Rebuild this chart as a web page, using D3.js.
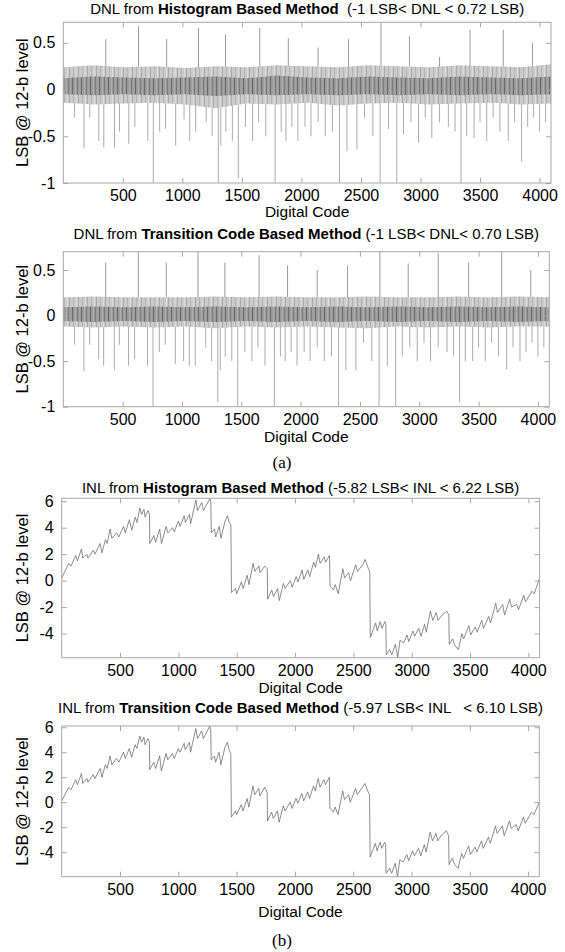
<!DOCTYPE html>
<html>
<head>
<meta charset="utf-8">
<script src="https://cdn.jsdelivr.net/npm/d3@7/dist/d3.min.js"></script>
<style>
  body { margin:0; background:#fff; }
  svg { display:block; font-family:"Liberation Sans", Arial, sans-serif; }
  text { white-space: pre; }
</style>
</head>
<body>
<script>
// ---- DNL: noise band envelope (read every 256 codes) ----
const bandCodes = [0,256,512,768,1024,1280,1536,1792,2048,2304,2560,2816,3072,3328,3584,3840,4096];
const histOuterHi = [0.24,0.26,0.24,0.25,0.23,0.25,0.24,0.26,0.25,0.24,0.26,0.25,0.24,0.26,0.25,0.24,0.27];
const histOuterLo = [-0.14,-0.16,-0.15,-0.14,-0.16,-0.2,-0.15,-0.16,-0.14,-0.17,-0.15,-0.14,-0.16,-0.15,-0.14,-0.16,-0.15];
const histInnerHi = [0.12,0.14,0.13,0.12,0.13,0.14,0.12,0.15,0.13,0.12,0.14,0.13,0.12,0.14,0.13,0.12,0.14];
const histInnerLo = [-0.05,-0.06,-0.05,-0.06,-0.05,-0.07,-0.05,-0.06,-0.05,-0.06,-0.05,-0.06,-0.05,-0.06,-0.05,-0.06,-0.05];
const transOuterHi = [0.2,0.21,0.2,0.2,0.2,0.21,0.2,0.21,0.2,0.2,0.21,0.2,0.2,0.21,0.2,0.21,0.2];
const transOuterLo = [-0.12,-0.13,-0.12,-0.13,-0.12,-0.14,-0.12,-0.13,-0.12,-0.13,-0.14,-0.12,-0.13,-0.12,-0.13,-0.12,-0.12];
const transInnerHi = [0.09,0.1,0.09,0.1,0.09,0.1,0.09,0.1,0.09,0.1,0.09,0.1,0.09,0.1,0.09,0.1,0.09];
const transInnerLo = [-0.06,-0.07,-0.06,-0.07,-0.06,-0.07,-0.06,-0.07,-0.06,-0.07,-0.06,-0.07,-0.06,-0.07,-0.06,-0.07,-0.06];

// ---- DNL: spikes ----
const upCodes  = [357,632,868,1135,1362,1650,1890,2140,2396,2668,2907,3160,3416,3695,3940];
const upHist   = [0.54,0.68,0.54,0.66,0.59,0.66,0.55,0.45,0.54,0.72,0.57,0.35,0.64,0.64,0.5];
const upTrans  = [0.58,0.70,0.58,0.70,0.58,0.66,0.55,0.5,0.55,0.70,0.57,0.68,0.58,0.70,0.5];
const downCodes = [95,174,222,298,340,430,472,550,601,710,756,809,859,944,1014,1062,1112,1200,1250,1302,1323,1365,1420,1470,
  1530,1590,1640,1700,1779,1830,1870,1920,1970,2030,2080,2140,2200,2260,2320,2382,2466,2530,2600,2661,2731,2801,2857,2920,
  2983,3040,3095,3160,3234,3290,3340,3388,3450,3500,3556,3610,3667,3737,3790,3849,3900,3950,4000,4050];
const downHist = [-0.3,-0.63,-0.3,-0.55,-0.62,-0.62,-0.45,-0.58,-0.4,-0.55,-1,-0.45,-0.42,-0.6,-0.32,-0.55,-0.45,-0.35,-0.5,-1,-0.6,-0.45,-0.55,-0.95,
  -0.4,-0.55,-0.35,-0.5,-1,-0.45,-0.55,-0.4,-0.55,-0.4,-0.5,-0.35,-0.5,-0.45,-1,-0.66,-0.64,-0.3,-0.5,-1,-0.42,-1,-0.48,-0.35,
  -0.57,-0.3,-0.52,-0.35,-0.4,-0.45,-1,-0.5,-0.52,-0.35,-0.55,-0.3,-0.45,-0.55,-0.35,-0.77,-0.4,-0.3,-0.45,-0.35];
const downTrans = [-0.32,-0.61,-0.32,-0.48,-0.55,-0.6,-0.32,-0.55,-0.48,-0.55,-1,-0.4,-0.32,-0.53,-0.5,-0.55,-0.55,-0.35,-0.5,-0.95,-0.6,-0.45,-0.5,-1,
  -0.4,-0.5,-0.35,-0.55,-1,-0.45,-0.5,-0.4,-0.55,-0.4,-0.5,-0.35,-0.5,-0.45,-1,-0.6,-0.6,-0.3,-0.5,-1,-0.55,-1,-0.45,-0.35,
  -0.5,-0.3,-0.5,-0.35,-0.4,-0.45,-0.95,-0.5,-0.5,-0.35,-0.5,-0.3,-0.45,-0.59,-0.35,-0.5,-0.4,-0.3,-0.45,-0.35];

// ---- INL vertices ----
const inlCodes = [0,60,80,120,135,170,180,215,225,270,285,330,345,375,390,415,430,470,490,530,545,580,600,630,645,670,685,705,715,740,752,
  755,790,805,840,855,895,910,950,965,1000,1015,1050,1060,1095,1105,1150,1165,1200,1215,1270,1278,
  1282,1310,1320,1350,1365,1400,1420,1435,1450,
  1455,1490,1500,1540,1555,1590,1605,1640,1655,1690,1700,1740,1762,
  1765,1800,1815,1850,1865,1900,1915,1960,1975,2010,2025,2060,2075,2110,2125,2160,2175,2200,2215,2250,2262,2295,
  2300,2330,2345,2370,2410,2425,2460,2475,2520,2535,2580,2600,2620,2640,
  2645,2670,2690,2705,2730,2745,2770,2778,
  2782,2810,2830,2860,2880,2900,2930,2960,2975,3010,3025,3060,3080,3110,3125,3160,3180,3210,3225,3260,3300,3318,
  3322,3350,3370,3400,3430,3445,3490,3505,3545,3560,3600,3615,3660,3675,3720,3735,3780,3795,3840,3855,3900,3915,3960,3975,4030,4050,4096];
const inlHist = [0.2,1.3,1.1,1.9,1.5,2.4,1.7,2.0,1.7,2.3,2.0,2.8,2.1,3.1,2.8,3.9,3.2,3.6,3.3,4.1,3.6,4.6,3.8,4.8,4.4,5.5,5.0,5.4,4.8,5.3,5.0,
  2.8,3.4,2.9,3.9,2.8,4.1,3.6,4.0,3.7,4.5,4.1,4.9,4.4,5.0,4.3,6.1,5.3,5.9,5.3,6.2,6.0,
  3.6,3.9,3.3,4.1,3.2,4.5,4.9,4.4,4.2,
  -0.9,-0.6,-1.0,-0.1,-0.6,0.4,-0.3,1.3,0.7,1.1,0.6,1.1,0.9,
  -1.4,-0.7,-1.2,-0.6,-1.5,-0.2,-0.6,0.0,-0.5,0.3,-0.1,0.8,0.1,0.8,0.3,1.4,1.0,2.0,1.3,1.8,1.4,1.9,
  -0.4,-0.7,-0.3,-1.0,0.9,0.2,0.6,0.0,1.2,0.7,1.2,1.6,1.1,0.7,
  -4.3,-3.7,-3.2,-3.8,-3.1,-3.6,-3.1,-3.3,
  -5.6,-5.2,-5.6,-4.8,-5.8,-4.5,-4.7,-4.1,-4.6,-3.8,-4.2,-3.6,-4.2,-3.3,-3.9,-2.3,-3.0,-2.4,-3.0,-2.6,-2.3,-2.6,
  -4.8,-4.4,-4.9,-5.2,-4.0,-4.4,-3.4,-4.1,-3.5,-3.9,-3.0,-3.6,-2.7,-3.2,-1.7,-2.4,-1.8,-2.6,-1.4,-2.0,-1.8,-2.2,-1.1,-1.6,-0.8,-1.0,0.2];
const inlTrans = [0.1,1.2,1.0,1.8,1.4,2.3,1.5,1.9,1.6,2.2,1.9,2.7,2.0,3.0,2.7,3.7,3.0,3.5,3.2,4.0,3.5,4.3,3.6,4.6,4.3,5.3,4.8,5.2,4.6,5.1,4.8,
  2.6,3.2,2.7,3.7,2.5,3.9,3.4,3.9,3.5,4.3,4.0,4.7,4.2,4.8,4.0,5.9,5.1,5.7,5.1,6.1,5.8,
  3.4,3.7,3.2,4.0,3.0,4.4,4.8,4.2,3.9,
  -1.2,-0.7,-1.0,-0.2,-0.7,0.3,-0.4,1.3,0.6,1.1,0.5,1.2,0.8,
  -1.5,-0.8,-1.3,-0.7,-1.6,-0.3,-0.7,0.0,-0.5,0.3,-0.1,0.7,0.1,0.8,0.3,1.3,0.9,1.9,1.2,1.8,1.4,2.0,
  -0.5,-0.8,-0.4,-1.0,0.9,0.2,0.6,0.0,1.1,0.6,1.2,1.5,1.0,0.6,
  -4.4,-3.8,-3.3,-3.9,-3.2,-3.7,-3.2,-3.4,
  -5.7,-5.3,-5.7,-4.9,-5.97,-4.6,-4.8,-4.2,-4.7,-3.9,-4.3,-3.7,-4.3,-3.4,-4.0,-2.4,-3.1,-2.5,-3.1,-2.6,-2.3,-2.7,
  -5.0,-4.5,-5.0,-5.3,-4.1,-4.5,-3.5,-4.2,-3.6,-4.0,-3.1,-3.7,-2.8,-3.3,-1.9,-2.5,-1.9,-2.7,-1.5,-2.1,-1.8,-2.3,-1.2,-1.7,-0.8,-1.0,0.0];

const xTicks = [500,1000,1500,2000,2500,3000,3500,4000];
const dnlTicks = [-1,-0.5,0,0.5];
const inlTicks = [-4,-2,0,2,4,6];

const W = 565, H = 952;
const svg = d3.select('body').append('svg').attr('width',W).attr('height',H);
svg.append('rect').attr('width',W).attr('height',H).attr('fill','#fff');

// stripe textures for the dense DNL noise band
const defs = svg.append('defs');
function stripes(id, bg, lines){
  const pat = defs.append('pattern').attr('id',id).attr('patternUnits','userSpaceOnUse')
    .attr('width',9).attr('height',20);
  pat.append('rect').attr('width',9).attr('height',20).attr('fill',bg);
  lines.forEach(([px,c,w])=>pat.append('rect').attr('x',px).attr('width',w).attr('height',20).attr('fill',c));
}
stripes('outerTex','#cbcbcb',[[1,'#b4b4b4',1],[4,'#dadada',1],[6,'#a9a9a9',1]]);
stripes('innerTex','#9a9a9a',[[0,'#6a6a6a',1],[3,'#b0b0b0',1],[5,'#7c7c7c',1],[7,'#a5a5a5',1]]);

const panels = [
  { kind:'dnl', left:63.3, right:551, top:22.3, bottom:183, dom:[-1,0.72], ticks:dnlTicks,
    title:['DNL from ','Histogram Based Method','  (-1 LSB< DNL < 0.72 LSB)'], titleY:14, labelY:217,
    band:[histOuterHi,histOuterLo,histInnerHi,histInnerLo], up:upHist, down:downHist },
  { kind:'dnl', left:63.3, right:549.3, top:251.7, bottom:406.7, dom:[-1,0.70], ticks:dnlTicks,
    title:['DNL from ','Transition Code Based Method',' (-1 LSB< DNL< 0.70 LSB)'], titleY:238.5, labelY:442,
    band:[transOuterHi,transOuterLo,transInnerHi,transInnerLo], up:upTrans, down:downTrans },
  { kind:'inl', left:61.7, right:539.6, top:498.3, bottom:657.7, dom:[-5.82,6.22], ticks:inlTicks,
    title:['INL from ','Histogram Based Method',' (-5.82 LSB< INL < 6.22 LSB)'], titleY:492.5, labelY:693,
    vals:inlHist },
  { kind:'inl', left:61.7, right:539.3, top:726, bottom:876.7, dom:[-5.97,6.10], ticks:inlTicks,
    title:['INL from ','Transition Code Based Method',' (-5.97 LSB< INL   < 6.10 LSB)'], titleY:712.5, labelY:917,
    vals:inlTrans }
];

const frameColor = '#a8a8a8';

panels.forEach((p,pi)=>{
  const x = d3.scaleLinear().domain([0,4096]).range([p.left,p.right]);
  const y = d3.scaleLinear().domain(p.dom).range([p.bottom,p.top]);
  const g = svg.append('g');
  const clipId = 'clip'+pi;
  g.append('clipPath').attr('id',clipId).append('rect')
    .attr('x',p.left).attr('y',p.top).attr('width',p.right-p.left).attr('height',p.bottom-p.top);
  const plot = g.append('g').attr('clip-path',`url(#${clipId})`);

  if(p.kind==='dnl'){
    // spikes
    plot.selectAll('line.dn').data(downCodes.map((c,i)=>[c,p.down[i]])).enter().append('line')
      .attr('x1',d=>x(d[0])).attr('x2',d=>x(d[0]))
      .attr('y1',y(0)).attr('y2',d=>y(d[1]))
      .attr('stroke','#ababab').attr('stroke-width',1);
    plot.selectAll('line.up').data(upCodes.map((c,i)=>[c,p.up[i]])).enter().append('line')
      .attr('x1',d=>x(d[0])).attr('x2',d=>x(d[0]))
      .attr('y1',y(0)).attr('y2',d=>y(d[1]))
      .attr('stroke','#9a9a9a').attr('stroke-width',1);
    // noise band
    const [oh,ol,ih,il] = p.band;
    const area = (hi,lo)=>d3.area().x((d,i)=>x(bandCodes[i])).y0((d,i)=>y(lo[i])).y1((d,i)=>y(hi[i]));
    plot.append('path').datum(bandCodes).attr('d',area(oh,ol)).attr('fill','url(#outerTex)');
    plot.append('path').datum(bandCodes).attr('d',area(ih,il)).attr('fill','url(#innerTex)');
  } else {
    const line = d3.line().x((d,i)=>x(inlCodes[i])).y(d=>y(d));
    plot.append('path').datum(p.vals).attr('d',line)
      .attr('fill','none').attr('stroke','#707070').attr('stroke-width',0.8);
  }

  // axes: inward ticks on all sides
  const bottomAx = g.append('g').attr('transform',`translate(0,${p.bottom})`)
    .call(d3.axisBottom(x).tickValues(xTicks).tickSize(-5).tickPadding(7).tickFormat(d3.format('d')));
  const topAx = g.append('g').attr('transform',`translate(0,${p.top})`)
    .call(d3.axisTop(x).tickValues(xTicks).tickSize(-5).tickFormat(''));
  const leftAx = g.append('g').attr('transform',`translate(${p.left},0)`)
    .call(d3.axisLeft(y).tickValues(p.ticks).tickSize(-5).tickPadding(8).tickFormat(d=>String(d)));
  const rightAx = g.append('g').attr('transform',`translate(${p.right},0)`)
    .call(d3.axisRight(y).tickValues(p.ticks).tickSize(-5).tickFormat(''));
  [bottomAx,topAx,leftAx,rightAx].forEach(a=>{
    a.select('.domain').remove();
    a.selectAll('line').attr('stroke',frameColor);
    a.selectAll('text').attr('fill','#000').style('font-size','16px').style('font-family','"Liberation Sans", Arial, sans-serif');
  });
  g.append('rect').attr('x',p.left).attr('y',p.top).attr('width',p.right-p.left).attr('height',p.bottom-p.top)
    .attr('fill','none').attr('stroke',frameColor).attr('stroke-width',1);

  // title
  const t = g.append('text').attr('x',(p.left+p.right)/2).attr('y',p.titleY)
    .attr('text-anchor','middle').style('font-size','15px');
  t.append('tspan').text(p.title[0]);
  t.append('tspan').attr('font-weight','bold').text(p.title[1]);
  t.append('tspan').text(p.title[2]);

  // axis labels
  g.append('text').attr('x',(p.left+p.right)/2).attr('y',p.labelY)
    .attr('text-anchor','middle').style('font-size','15.5px').text('Digital Code');
  g.append('text').attr('transform',`translate(28,${(p.top+p.bottom)/2}) rotate(-90)`)
    .attr('text-anchor','middle').style('font-size','16.5px').text('LSB @ 12-b level');
});

// sub-figure captions
svg.append('text').attr('x',282).attr('y',468).attr('text-anchor','middle')
  .style('font-family','"Liberation Serif", "Times New Roman", serif').style('font-size','17px').text('(a)');
svg.append('text').attr('x',282).attr('y',946).attr('text-anchor','middle')
  .style('font-family','"Liberation Serif", "Times New Roman", serif').style('font-size','17px').text('(b)');
</script>
</body>
</html>
